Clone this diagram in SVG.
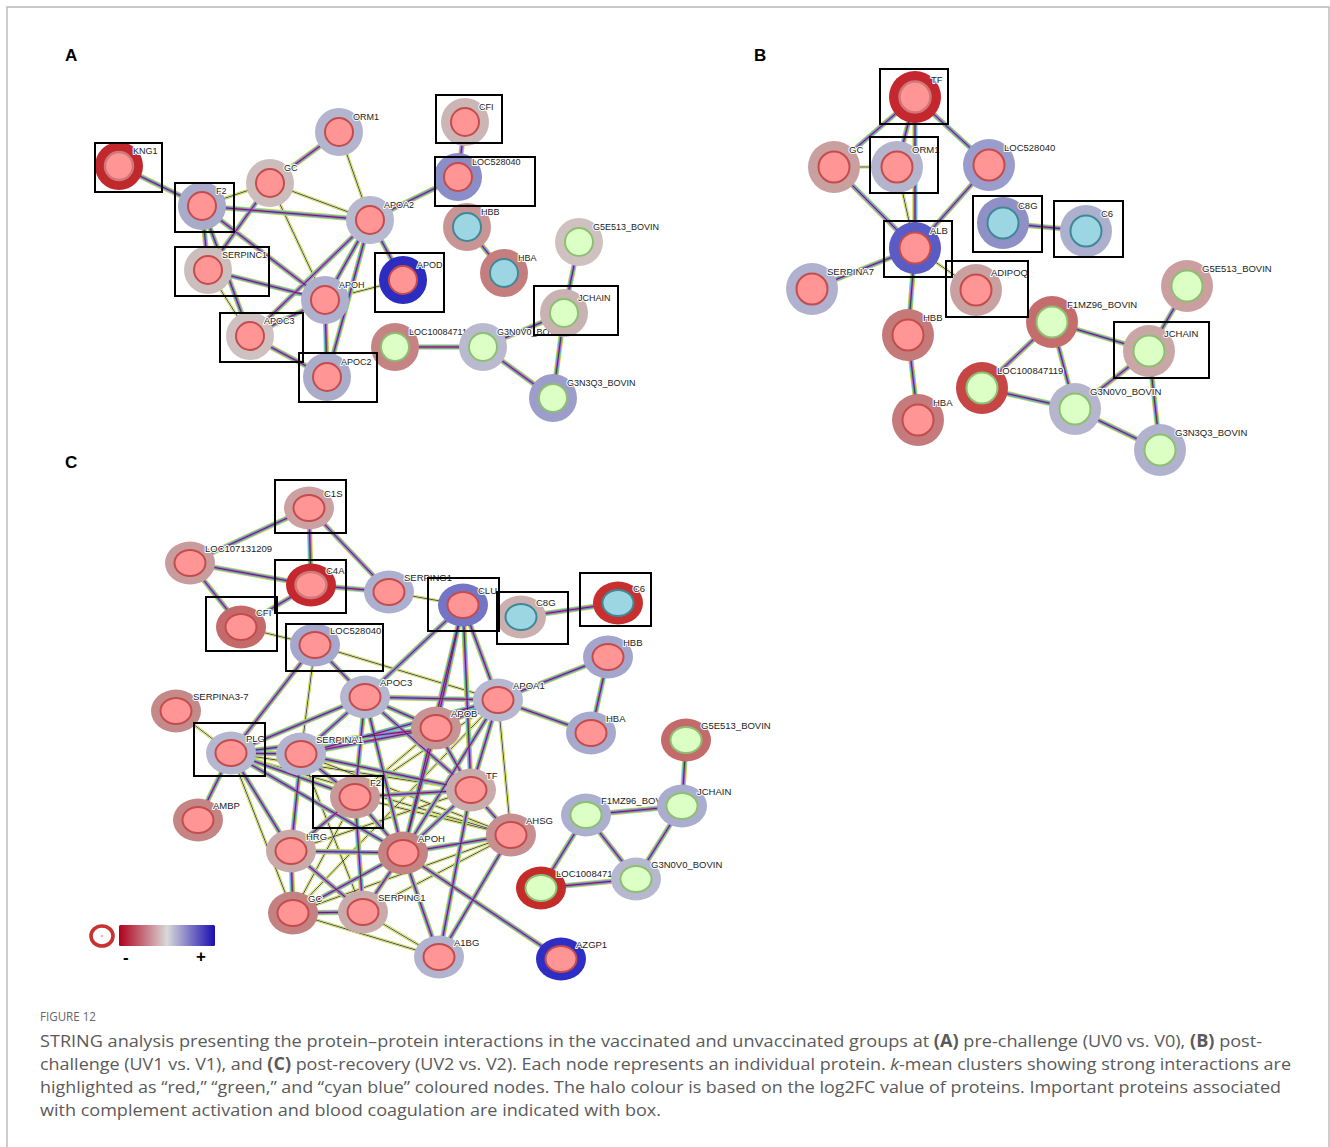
<svg xmlns="http://www.w3.org/2000/svg" xmlns:xlink="http://www.w3.org/1999/xlink" width="1330" height="1147" viewBox="0 0 1330 1147">
<style>
.frame{fill:none;stroke:#b8b8b8;stroke-width:1.4}
.pl{font-family:"Liberation Sans",Arial,sans-serif;font-weight:bold;font-size:17px;fill:#000}
.r{fill:#ff9595;stroke:#c44c4c;stroke-width:2}
.rd{fill:#ff9595;stroke:#d07878;stroke-width:2.5}
.g{fill:#dcffc6;stroke:#8cc070;stroke-width:2}
.c{fill:#9cd6e2;stroke:#3f8898;stroke-width:2}
text.t{font-family:"Liberation Sans",Arial,sans-serif;font-size:9.5px;fill:#222;stroke:#fff;stroke-width:2;stroke-linejoin:round;paint-order:stroke}
.A text.t{font-size:9px}
.m1{fill:none;stroke:#c9dc3c;stroke-width:5.4}
.m2{fill:none;stroke:#48c4dc;stroke-width:3.9}
.m3{fill:none;stroke:#d84ad4;stroke-width:2.3}
.m4{fill:none;stroke:#333;stroke-width:0.9}
.s1{fill:none;stroke:#c9dc3c;stroke-width:3.2}
.s2{fill:none;stroke:#fff;stroke-width:1.6}
.s3{fill:none;stroke:#333;stroke-width:0.9}
.box{fill:none;stroke:#000;stroke-width:2}
.cap{font-family:"Open Sans","Liberation Sans",sans-serif;font-size:17px;fill:#5a5a5a}
.fig{font-family:"Open Sans","Liberation Sans",sans-serif;font-size:12px;fill:#666}
.pm{font-family:"Liberation Sans",Arial,sans-serif;font-weight:bold;font-size:17px;fill:#000}
</style>
<defs>
<linearGradient id="lg" x1="0" x2="1" y1="0" y2="0">
<stop offset="0" stop-color="#b0001c"/>
<stop offset="0.5" stop-color="#d9d9d9"/>
<stop offset="1" stop-color="#1a0db2"/>
</linearGradient>
<path id="em" d="M119 166L202 206M202 206L208 270M202 206L370 220M202 206L250 336M202 206L325 300M270 183L339 132M270 183L208 270M208 270L325 300M370 220L325 300M370 220L250 336M370 220L327 377M370 220L403 280M370 220L458 177M325 300L250 336M325 300L327 377M250 336L327 377M465 122L458 177M467 227L504 273M395 347L483 347M483 347L564 313M483 347L553 398M564 313L553 398M579 242L564 313
M915 97L834 167M915 97L897 167M915 97L915 248M915 97L989 165M834 167L915 248M989 165L915 248M915 248L812 289M915 248L908 335M908 335L918 420M1003 223L1086 231M1052 322L982 388M1052 322L1075 409M1052 322L1149 351M982 388L1075 409M1075 409L1149 351M1075 409L1160 450M1149 351L1160 450M1187 286L1149 351
M309 508L190 563M309 508L311 585M309 508L389 592M190 563L311 585M190 563L241 627M311 585L241 627M311 585L389 592M315 645L365 697M315 645L231 753M463 605L365 697M463 605L436 728M463 605L498 700M463 605L403 853M463 605L471 790M521 617L618 603M498 700L608 657M498 700L591 733M608 657L591 733M365 697L498 700M365 697L436 728M365 697L231 753M365 697L301 754M365 697L355 797M365 697L471 790M365 697L403 853M498 700L436 728M498 700L301 754M498 700L471 790M498 700L403 853M436 728L471 790M436 728L301 754M436 728L231 753M436 728L403 853M231 753L301 754M231 753L198 820M231 753L355 797M231 753L291 851M231 753L403 853M301 754L355 797M301 754L291 851M301 754L471 790M355 797L471 790M355 797L291 851M355 797L403 853M355 797L363 912M471 790L511 835M471 790L403 853M471 790L439 957M291 851L403 853M291 851L293 913M291 851L363 912M403 853L511 835M403 853L293 913M403 853L363 912M403 853L561 959M403 853L439 957M293 913L363 912M511 835L439 957M686 740L682 806M586 815L682 806M586 815L541 888M586 815L636 879M682 806L636 879M541 888L636 879"/>
<path id="es" d="M202 206L270 183M270 183L370 220M270 183L325 300M339 132L370 220M325 300L403 280M208 270L250 336
M834 167L897 167M897 167L915 248M915 248L976 290
M389 592L463 605M241 627L315 645M315 645L498 700M315 645L301 754M231 753L176 711M498 700L511 835M498 700L355 797M498 700L293 913M231 753L293 913M231 753L471 790M231 753L511 835M301 754L363 912M301 754L511 835M355 797L293 913M355 797L511 835M471 790L291 851M511 835L293 913M511 835L363 912M293 913L439 957M363 912L439 957M436 728L291 851"/>
</defs>
<rect width="1330" height="1147" fill="#fff"/>
<path class="frame" d="M7 1147V7H1329V1147"/>
<text class="pl" x="65" y="61">A</text>
<text class="pl" x="754" y="61">B</text>
<text class="pl" x="65" y="468">C</text>
<g id="connectors">
<use href="#es" class="s1"/><use href="#es" class="s2"/><use href="#es" class="s3"/>
<use href="#em" class="m1"/><use href="#em" class="m2"/><use href="#em" class="m3"/><use href="#em" class="m4"/>
</g>
<g id="nodes-A" class="A">
<g id="a-kng1" transform="translate(119,166)"><circle r="24" fill="#c0282d"/><circle class="rd" r="14"/><text class="t" x="14" y="-12">KNG1</text></g>
<g id="a-orm1" transform="translate(339,132)"><circle r="24" fill="#b3b5cf"/><circle class="r" r="14"/><text class="t" x="14" y="-12">ORM1</text></g>
<g id="a-gc" transform="translate(270,183)"><circle r="24" fill="#cdbcbc"/><circle class="r" r="14"/><text class="t" x="14" y="-12">GC</text></g>
<g id="a-f2" transform="translate(202,206)"><circle r="24" fill="#a9abcb"/><circle class="r" r="14"/><text class="t" x="14" y="-12">F2</text></g>
<g id="a-apoa2" transform="translate(370,220)"><circle r="24" fill="#b7b9d0"/><circle class="r" r="14"/><text class="t" x="14" y="-12">APOA2</text></g>
<g id="a-serpinc1" transform="translate(208,270)"><circle r="24" fill="#cdbebe"/><circle class="r" r="14"/><text class="t" x="14" y="-12">SERPINC1</text></g>
<g id="a-apoh" transform="translate(325,300)"><circle r="24" fill="#aeb0ce"/><circle class="r" r="14"/><text class="t" x="14" y="-12">APOH</text></g>
<g id="a-apoc3" transform="translate(250,336)"><circle r="24" fill="#cfc1c1"/><circle class="r" r="14"/><text class="t" x="14" y="-12">APOC3</text></g>
<g id="a-apoc2" transform="translate(327,377)"><circle r="24" fill="#aaacca"/><circle class="r" r="14"/><text class="t" x="14" y="-12">APOC2</text></g>
<g id="a-cfi" transform="translate(465,122)"><circle r="24" fill="#cbb5b5"/><circle class="r" r="14"/><text class="t" x="14" y="-12">CFI</text></g>
<g id="a-loc528040" transform="translate(458,177)"><circle r="24" fill="#8b8dc7"/><circle class="r" r="14"/><text class="t" x="14" y="-12">LOC528040</text></g>
<g id="a-hbb" transform="translate(467,227)"><circle r="24" fill="#c89494"/><circle class="c" r="14"/><text class="t" x="14" y="-12">HBB</text></g>
<g id="a-hba" transform="translate(504,273)"><circle r="24" fill="#c57e7e"/><circle class="c" r="14"/><text class="t" x="14" y="-12">HBA</text></g>
<g id="a-apod" transform="translate(403,280)"><circle r="24" fill="#2c2cc0"/><circle class="r" r="14"/><text class="t" x="14" y="-12">APOD</text></g>
<g id="a-g5e513" transform="translate(579,242)"><circle r="24" fill="#d0c1c1"/><circle class="g" r="14"/><text class="t" x="14" y="-12">G5E513_BOVIN</text></g>
<g id="a-loc100847119" transform="translate(395,347)"><circle r="24" fill="#c68383"/><circle class="g" r="14"/><text class="t" x="14" y="-12">LOC100847119</text></g>
<g id="a-g3n0v0" transform="translate(483,347)"><circle r="24" fill="#b9bad0"/><circle class="g" r="14"/><text class="t" x="14" y="-12">G3N0V0_BOVIN</text></g>
<g id="a-jchain" transform="translate(564,313)"><circle r="24" fill="#c9b2b2"/><circle class="g" r="14"/><text class="t" x="14" y="-12">JCHAIN</text></g>
<g id="a-g3n3q3" transform="translate(553,398)"><circle r="24" fill="#9c9ec9"/><circle class="g" r="14"/><text class="t" x="14" y="-12">G3N3Q3_BOVIN</text></g>
</g>
<g id="nodes-B">
<g id="b-tf" transform="translate(915,97)"><circle r="26" fill="#c4282e"/><circle class="rd" r="15.5"/><text class="t" x="16" y="-14">TF</text></g>
<g id="b-gc" transform="translate(834,167)"><circle r="26" fill="#c99f9f"/><circle class="r" r="15.5"/><text class="t" x="15" y="-14">GC</text></g>
<g id="b-orm1" transform="translate(897,167)"><circle r="26" fill="#b4b5cd"/><circle class="r" r="15.5"/><text class="t" x="15" y="-14">ORM1</text></g>
<g id="b-loc528040" transform="translate(989,165)"><circle r="26" fill="#9a9ccb"/><circle class="r" r="15.5"/><text class="t" x="15" y="-14">LOC528040</text></g>
<g id="b-alb" transform="translate(915,248)"><circle r="26" fill="#5b5bc6"/><circle class="r" r="15.5"/><text class="t" x="15" y="-14">ALB</text></g>
<g id="b-c8g" transform="translate(1003,223)"><circle r="26" fill="#8e90c6"/><circle class="c" r="15.5"/><text class="t" x="15" y="-14">C8G</text></g>
<g id="b-c6" transform="translate(1086,231)"><circle r="26" fill="#adafce"/><circle class="c" r="15.5"/><text class="t" x="15" y="-14">C6</text></g>
<g id="b-serpina7" transform="translate(812,289)"><circle r="26" fill="#afb1ce"/><circle class="r" r="15.5"/><text class="t" x="15" y="-14">SERPINA7</text></g>
<g id="b-adipoq" transform="translate(976,290)"><circle r="26" fill="#c9a1a1"/><circle class="r" r="15.5"/><text class="t" x="15" y="-14">ADIPOQ</text></g>
<g id="b-hbb" transform="translate(908,335)"><circle r="26" fill="#c57a7a"/><circle class="r" r="15.5"/><text class="t" x="15" y="-14">HBB</text></g>
<g id="b-hba" transform="translate(918,420)"><circle r="26" fill="#c57b7b"/><circle class="r" r="15.5"/><text class="t" x="15" y="-14">HBA</text></g>
<g id="b-f1mz96" transform="translate(1052,322)"><circle r="26" fill="#c56d6d"/><circle class="g" r="15.5"/><text class="t" x="15" y="-14">F1MZ96_BOVIN</text></g>
<g id="b-loc100847119" transform="translate(982,388)"><circle r="26" fill="#c64646"/><circle class="g" r="15.5"/><text class="t" x="15" y="-14">LOC100847119</text></g>
<g id="b-g5e513" transform="translate(1187,286)"><circle r="26" fill="#cb9f9f"/><circle class="g" r="15.5"/><text class="t" x="15" y="-14">G5E513_BOVIN</text></g>
<g id="b-g3n0v0" transform="translate(1075,409)"><circle r="26" fill="#b5b6cd"/><circle class="g" r="15.5"/><text class="t" x="15" y="-14">G3N0V0_BOVIN</text></g>
<g id="b-jchain" transform="translate(1149,351)"><circle r="26" fill="#c9a7a7"/><circle class="g" r="15.5"/><text class="t" x="15" y="-14">JCHAIN</text></g>
<g id="b-g3n3q3" transform="translate(1160,450)"><circle r="26" fill="#b0b2ce"/><circle class="g" r="15.5"/><text class="t" x="15" y="-14">G3N3Q3_BOVIN</text></g>
</g>
<g id="nodes-C">
<g id="c-c1s" transform="translate(309,508)"><ellipse rx="25" ry="21.5" fill="#cda1a1"/><ellipse class="r" rx="15.5" ry="13"/><text class="t" x="15" y="-11">C1S</text></g>
<g id="c-loc107131209" transform="translate(190,563)"><ellipse rx="25" ry="21.5" fill="#c89c9c"/><ellipse class="r" rx="15.5" ry="13"/><text class="t" x="15" y="-11">LOC107131209</text></g>
<g id="c-c4a" transform="translate(311,585)"><ellipse rx="25" ry="21.5" fill="#c4282e"/><ellipse class="rd" rx="15.5" ry="13"/><text class="t" x="15" y="-11">C4A</text></g>
<g id="c-serping1" transform="translate(389,592)"><ellipse rx="25" ry="21.5" fill="#adafce"/><ellipse class="r" rx="15.5" ry="13"/><text class="t" x="15" y="-11">SERPING1</text></g>
<g id="c-cfi" transform="translate(241,627)"><ellipse rx="25" ry="21.5" fill="#c46a6a"/><ellipse class="r" rx="15.5" ry="13"/><text class="t" x="15" y="-11">CFI</text></g>
<g id="c-loc528040" transform="translate(315,645)"><ellipse rx="25" ry="21.5" fill="#a5a7cd"/><ellipse class="r" rx="15.5" ry="13"/><text class="t" x="15" y="-11">LOC528040</text></g>
<g id="c-clu" transform="translate(463,605)"><ellipse rx="25" ry="21.5" fill="#7475c4"/><ellipse class="r" rx="15.5" ry="13"/><text class="t" x="15" y="-11">CLU</text></g>
<g id="c-c8g" transform="translate(521,617)"><ellipse rx="25" ry="21.5" fill="#ccafaf"/><ellipse class="c" rx="15.5" ry="13"/><text class="t" x="15" y="-11">C8G</text></g>
<g id="c-c6" transform="translate(618,603)"><ellipse rx="25" ry="21.5" fill="#c83030"/><ellipse class="c" rx="15.5" ry="13"/><text class="t" x="15" y="-11">C6</text></g>
<g id="c-hbb" transform="translate(608,657)"><ellipse rx="25" ry="21.5" fill="#a3a5cc"/><ellipse class="r" rx="15.5" ry="13"/><text class="t" x="15" y="-11">HBB</text></g>
<g id="c-apoc3" transform="translate(365,697)"><ellipse rx="25" ry="21.5" fill="#b5b6cf"/><ellipse class="r" rx="15.5" ry="13"/><text class="t" x="15" y="-11">APOC3</text></g>
<g id="c-apoa1" transform="translate(498,700)"><ellipse rx="25" ry="21.5" fill="#b7b8d0"/><ellipse class="r" rx="15.5" ry="13"/><text class="t" x="15" y="-11">APOA1</text></g>
<g id="c-apob" transform="translate(436,728)"><ellipse rx="25" ry="21.5" fill="#c69494"/><ellipse class="r" rx="15.5" ry="13"/><text class="t" x="15" y="-11">APOB</text></g>
<g id="c-hba" transform="translate(591,733)"><ellipse rx="25" ry="21.5" fill="#a8aacd"/><ellipse class="r" rx="15.5" ry="13"/><text class="t" x="15" y="-11">HBA</text></g>
<g id="c-serpina3-7" transform="translate(176,711)"><ellipse rx="25" ry="21.5" fill="#c48a8a"/><ellipse class="r" rx="15.5" ry="13"/><text class="t" x="17" y="-11">SERPINA3-7</text></g>
<g id="c-plg" transform="translate(231,753)"><ellipse rx="25" ry="21.5" fill="#b5b6cf"/><ellipse class="r" rx="15.5" ry="13"/><text class="t" x="15" y="-11">PLG</text></g>
<g id="c-serpina1" transform="translate(301,754)"><ellipse rx="25" ry="21.5" fill="#b3b4cf"/><ellipse class="r" rx="15.5" ry="13"/><text class="t" x="15" y="-11">SERPINA1</text></g>
<g id="c-f2" transform="translate(355,797)"><ellipse rx="25" ry="21.5" fill="#c99999"/><ellipse class="r" rx="15.5" ry="13"/><text class="t" x="15" y="-11">F2</text></g>
<g id="c-tf" transform="translate(471,790)"><ellipse rx="25" ry="21.5" fill="#caabab"/><ellipse class="r" rx="15.5" ry="13"/><text class="t" x="15" y="-11">TF</text></g>
<g id="c-ambp" transform="translate(198,820)"><ellipse rx="25" ry="21.5" fill="#c58585"/><ellipse class="r" rx="15.5" ry="13"/><text class="t" x="15" y="-11">AMBP</text></g>
<g id="c-hrg" transform="translate(291,851)"><ellipse rx="25" ry="21.5" fill="#caa9a9"/><ellipse class="r" rx="15.5" ry="13"/><text class="t" x="15" y="-11">HRG</text></g>
<g id="c-apoh" transform="translate(403,853)"><ellipse rx="25" ry="21.5" fill="#c48484"/><ellipse class="r" rx="15.5" ry="13"/><text class="t" x="15" y="-11">APOH</text></g>
<g id="c-ahsg" transform="translate(511,835)"><ellipse rx="25" ry="21.5" fill="#c78f8f"/><ellipse class="r" rx="15.5" ry="13"/><text class="t" x="15" y="-11">AHSG</text></g>
<g id="c-gc" transform="translate(293,913)"><ellipse rx="25" ry="21.5" fill="#c48181"/><ellipse class="r" rx="15.5" ry="13"/><text class="t" x="15" y="-11">GC</text></g>
<g id="c-serpinc1" transform="translate(363,912)"><ellipse rx="25" ry="21.5" fill="#caabab"/><ellipse class="r" rx="15.5" ry="13"/><text class="t" x="15" y="-11">SERPINC1</text></g>
<g id="c-a1bg" transform="translate(439,957)"><ellipse rx="25" ry="21.5" fill="#b2b3cf"/><ellipse class="r" rx="15.5" ry="13"/><text class="t" x="15" y="-11">A1BG</text></g>
<g id="c-azgp1" transform="translate(561,959)"><ellipse rx="25" ry="21.5" fill="#2e2ec4"/><ellipse class="r" rx="15.5" ry="13"/><text class="t" x="15" y="-11">AZGP1</text></g>
<g id="c-g5e513" transform="translate(686,740)"><ellipse rx="25" ry="21.5" fill="#c46a6a"/><ellipse class="g" rx="15.5" ry="13"/><text class="t" x="15" y="-11">G5E513_BOVIN</text></g>
<g id="c-f1mz96" transform="translate(586,815)"><ellipse rx="25" ry="21.5" fill="#adafcf"/><ellipse class="g" rx="15.5" ry="13"/><text class="t" x="15" y="-11">F1MZ96_BOVIN</text></g>
<g id="c-jchain" transform="translate(682,806)"><ellipse rx="25" ry="21.5" fill="#abadcf"/><ellipse class="g" rx="15.5" ry="13"/><text class="t" x="15" y="-11">JCHAIN</text></g>
<g id="c-loc100847119" transform="translate(541,888)"><ellipse rx="25" ry="21.5" fill="#c42c2c"/><ellipse class="g" rx="15.5" ry="13"/><text class="t" x="15" y="-11">LOC100847119</text></g>
<g id="c-g3n0v0" transform="translate(636,879)"><ellipse rx="25" ry="21.5" fill="#b7b8d0"/><ellipse class="g" rx="15.5" ry="13"/><text class="t" x="15" y="-11">G3N0V0_BOVIN</text></g>
</g>
<g id="boxes">
<rect class="box" x="95" y="143" width="67" height="49"/>
<rect class="box" x="175" y="183" width="59" height="49"/>
<rect class="box" x="175" y="247" width="94" height="49"/>
<rect class="box" x="220" y="313" width="83" height="49"/>
<rect class="box" x="299" y="353" width="78" height="49"/>
<rect class="box" x="375" y="253" width="69" height="59"/>
<rect class="box" x="436" y="95" width="66" height="48"/>
<rect class="box" x="435" y="157" width="100" height="49"/>
<rect class="box" x="534" y="286" width="84" height="49"/>
<rect class="box" x="880" y="69" width="68" height="55"/>
<rect class="box" x="870" y="137" width="68" height="56"/>
<rect class="box" x="884" y="221" width="68" height="56"/>
<rect class="box" x="973" y="196" width="69" height="56"/>
<rect class="box" x="946" y="261" width="82" height="56"/>
<rect class="box" x="1054" y="201" width="69" height="56"/>
<rect class="box" x="1114" y="322" width="95" height="56"/>
<rect class="box" x="275" y="480" width="71" height="53"/>
<rect class="box" x="275" y="560" width="71" height="53"/>
<rect class="box" x="206" y="597" width="71" height="54"/>
<rect class="box" x="286" y="624" width="97" height="47"/>
<rect class="box" x="428" y="578" width="71" height="53"/>
<rect class="box" x="497" y="592" width="71" height="52"/>
<rect class="box" x="580" y="573" width="71" height="53"/>
<rect class="box" x="194" y="723" width="71" height="53"/>
<rect class="box" x="313" y="776" width="70" height="52"/>
</g>
<g id="legend">
<ellipse cx="102" cy="936" rx="11" ry="10" fill="#fff" stroke="#c83232" stroke-width="3.6"/>
<circle cx="102" cy="936" r="1.5" fill="#ccc"/>
<rect x="119" y="925" width="96" height="21" rx="1.5" fill="url(#lg)"/>
<text class="pm" x="123" y="963">-</text>
<text class="pm" x="196" y="962">+</text>
</g>
<g id="caption">
<text class="fig" x="40" y="1021" textLength="56" lengthAdjust="spacingAndGlyphs">FIGURE 12</text>
<text class="cap" x="40" y="1047" textLength="1222" lengthAdjust="spacingAndGlyphs">STRING analysis presenting the protein–protein interactions in the vaccinated and unvaccinated groups at <tspan font-weight="bold">(A)</tspan> pre-challenge (UV0 vs. V0), <tspan font-weight="bold">(B)</tspan> post-</text>
<text class="cap" x="40" y="1070" textLength="1251" lengthAdjust="spacingAndGlyphs">challenge (UV1 vs. V1), and <tspan font-weight="bold">(C)</tspan> post-recovery (UV2 vs. V2). Each node represents an individual protein. <tspan font-style="italic">k</tspan>-mean clusters showing strong interactions are</text>
<text class="cap" x="40" y="1093" textLength="1241" lengthAdjust="spacingAndGlyphs">highlighted as “red,” “green,” and “cyan blue” coloured nodes. The halo colour is based on the log2FC value of proteins. Important proteins associated</text>
<text class="cap" x="40" y="1116" textLength="621" lengthAdjust="spacingAndGlyphs">with complement activation and blood coagulation are indicated with box.</text>
</g>
</svg>
